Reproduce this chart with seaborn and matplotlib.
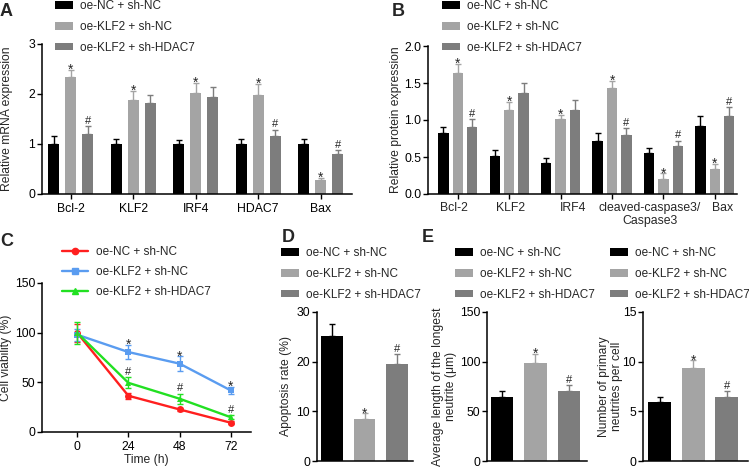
import matplotlib
matplotlib.use("Agg")
import matplotlib.pyplot as plt
import seaborn as sns
import numpy as np
import pandas as pd
from matplotlib.patches import Patch
from matplotlib.lines import Line2D

sns.set_theme(style="ticks")
plt.rcParams['font.family'] = ['Liberation Sans', 'DejaVu Sans']

# ---- data ----
groups = ["oe-NC + sh-NC", "oe-KLF2 + sh-NC", "oe-KLF2 + sh-HDAC7"]
bar_colors = ["#000000", "#a4a4a4", "#7d7d7d"]
line_colors = ["#ff1f1f", "#5a9cf0", "#22e022"]
line_markers = ["o", "s", "^"]

# A: relative mRNA expression
genes_a = ["Bcl-2", "KLF2", "IRF4", "HDAC7", "Bax"]
mrna_nc = [1.0, 1.0, 1.0, 1.0, 1.0]
mrna_klf2 = [2.35, 1.88, 2.03, 1.99, 0.29]
mrna_hdac7 = [1.20, 1.82, 1.95, 1.17, 0.80]
mrna_nc_err = [0.16, 0.10, 0.09, 0.11, 0.11]
mrna_klf2_err = [0.13, 0.18, 0.20, 0.21, 0.04]
mrna_hdac7_err = [0.16, 0.17, 0.19, 0.12, 0.08]
mrna_marks = [["", "", "", "", ""], ["*", "*", "*", "*", "*"], ["#", "", "", "#", "#"]]

# B: relative protein expression
proteins_b = ["Bcl-2", "KLF2", "IRF4", "cleaved-caspase3", "Caspase3", "Bax"]
prot_nc = [0.82, 0.52, 0.42, 0.72, 0.55, 0.92]
prot_klf2 = [1.63, 1.13, 1.01, 1.43, 0.20, 0.34]
prot_hdac7 = [0.90, 1.36, 1.13, 0.80, 0.65, 1.05]
prot_nc_err = [0.09, 0.08, 0.07, 0.10, 0.07, 0.13]
prot_klf2_err = [0.13, 0.12, 0.06, 0.10, 0.08, 0.07]
prot_hdac7_err = [0.11, 0.14, 0.14, 0.09, 0.07, 0.12]
prot_marks = [["", "", "", "", "", ""], ["*", "*", "*", "*", "*", "*"], ["#", "", "", "#", "#", "#"]]
prot_ticklabels = ["Bcl-2", "KLF2", "IRF4", "cleaved-caspase3/\nCaspase3", "Bax"]
prot_tickpos = [-0.08, 1.02, 2.25, 3.74, 5.14]

# C: cell viability
times = [0, 24, 48, 72]
via = [[100, 36.5, 22.7, 9.3], [98, 80.5, 68.8, 41.8], [100, 49.5, 33.5, 14.8]]
via_err = [[9, 3, 1.5, 1.5], [6, 7.5, 7.5, 4], [11, 5.5, 5, 2]]
via_marks = [["", "", "", ""], ["", "*", "*", "*"], ["", "#", "#", "#"]]

# D: apoptosis
apoptosis = [25.2, 8.4, 19.5]
apoptosis_err = [2.4, 1.2, 2.0]
# E: neurites
length = [64.5, 98.3, 70.0]
length_err = [6.0, 9.5, 6.5]
number = [5.9, 9.4, 6.4]
number_err = [0.55, 0.75, 0.6]
single_marks = ["", "*", "#"]

W, H = 749, 467
fig = plt.figure(figsize=(W / 100, H / 100), dpi=100)

FS_TICK = 8.8
FS_LAB = 8.7
FS_LEG = 8.5


def px_axes(x0, y0, x1, y1):
    ax = fig.add_axes([x0 / W, 1 - y1 / H, (x1 - x0) / W, (y1 - y0) / H])
    sns.despine(ax=ax)
    for s in ["left", "bottom"]:
        ax.spines[s].set_linewidth(1.1)
        ax.spines[s].set_color("black")
    ax.tick_params(direction="out", length=3.4, width=1.0, labelsize=FS_TICK,
                   colors="black", pad=1.5)
    ax.set_xlabel("")
    ax.set_ylabel("")
    return ax


def set_ylabel(ax, text, right_px, x0_px, w_px):
    ax.set_ylabel(text, fontsize=FS_LAB, linespacing=1.1)
    ax.yaxis.set_label_coords((right_px - x0_px) / w_px, 0.5)


def mark(ax, x, top, s):
    if not s:
        return
    if s == "*":
        ax.annotate("*", (x, top), xytext=(0, -3.0), textcoords="offset points",
                    ha="center", va="baseline", fontsize=10)
    else:
        ax.annotate("#", (x, top), xytext=(0, 1.8), textcoords="offset points",
                    ha="center", va="baseline", fontsize=8)


def add_legend(ax, handles, x_px, y_px, hl=1.5, spacing=0.75):
    ax.legend(handles, groups, loc="upper left", frameon=False,
              bbox_to_anchor=(x_px / W, 1 - y_px / H), bbox_transform=fig.transFigure,
              borderpad=0, borderaxespad=0, fontsize=FS_LEG, handlelength=hl,
              handleheight=0.62, handletextpad=0.65, labelspacing=spacing)


def letter(text, x_px, y_px):
    fig.text(x_px / W, 1 - y_px / H, text, fontsize=13, fontweight="bold",
             ha="left", va="top")


def grouped(ax, cats, vals, errs, marks, width, gap):
    df = pd.DataFrame({"cat": cats * 3,
                       "group": np.repeat(groups, len(cats)),
                       "value": vals[0] + vals[1] + vals[2]})
    sns.barplot(df, x="cat", y="value", hue="group", hue_order=groups,
                palette=bar_colors, width=width, gap=gap, errorbar=None,
                saturation=1, linewidth=0, legend=False, ax=ax)
    conts = list(ax.containers)[:3]
    for i, cont in enumerate(conts):
        xs = [b.get_x() + b.get_width() / 2 for b in cont.patches]
        ys = [b.get_height() for b in cont.patches]
        ax.errorbar(xs, ys, yerr=[np.zeros(len(xs)), errs[i]], fmt="none",
                    ecolor=bar_colors[i], elinewidth=1.0, capsize=2.2, capthick=1.0)
        for x, y, e, s in zip(xs, ys, errs[i], marks[i]):
            mark(ax, x, y + e, s)


def single(ax, vals, errs, width):
    sns.barplot(x=groups, y=vals, hue=groups, hue_order=groups, order=groups,
                palette=bar_colors, width=width, errorbar=None, saturation=1,
                linewidth=0, legend=False, ax=ax)
    bars = sorted(ax.patches, key=lambda b: b.get_x())
    for i, b in enumerate(bars):
        x = b.get_x() + b.get_width() / 2
        ax.errorbar([x], [b.get_height()], yerr=[[0], [errs[i]]], fmt="none",
                    ecolor=bar_colors[i], elinewidth=1.0, capsize=2.2, capthick=1.0)
        mark(ax, x, b.get_height() + errs[i], single_marks[i])
    ax.set_xticks([])
    ax.tick_params(axis="x", length=0)


bar_handles = [Patch(facecolor=c, edgecolor="none") for c in bar_colors]

# ---- A ----
axA = px_axes(42, 44, 352, 194)
grouped(axA, genes_a, [mrna_nc, mrna_klf2, mrna_hdac7],
        [mrna_nc_err, mrna_klf2_err, mrna_hdac7_err], mrna_marks, 0.82, 0.34)
axA.set_xlim(-0.46, 4.5)
axA.set_ylim(0, 3)
axA.set_yticks([0, 1, 2, 3])
axA.tick_params(axis="x", pad=3)
axA.set_xlabel("")
set_ylabel(axA, "Relative mRNA expression", 13, 42, 310)
add_legend(axA, bar_handles, 55, 0)
letter("A", 0, 3)

# ---- B ----
axB = px_axes(428, 46, 737, 194)
grouped(axB, proteins_b, [prot_nc, prot_klf2, prot_hdac7],
        [prot_nc_err, prot_klf2_err, prot_hdac7_err], prot_marks, 0.84, 0.28)
axB.set_xlim(-0.58, 5.43)
axB.set_ylim(0, 2)
axB.set_yticks([0, 0.5, 1.0, 1.5, 2.0])
axB.set_yticklabels(["0.0", "0.5", "1.0", "1.5", "2.0"])
axB.set_xticks(range(len(proteins_b)))
axB.set_xticklabels([""] * len(proteins_b))
axB.set_xticks(prot_tickpos, minor=True)
axB.set_xticklabels(prot_ticklabels, minor=True, linespacing=1.05)
axB.tick_params(axis="x", which="minor", length=0, labelsize=FS_TICK, pad=6)
axB.set_xlabel("")
set_ylabel(axB, "Relative protein expression", 402, 428, 309)
add_legend(axB, bar_handles, 442, 0)
letter("B", 392, 3)

# ---- C ----
axC = px_axes(42, 283, 251, 432)
dfc = pd.DataFrame({"time": times * 3,
                    "group": np.repeat(groups, len(times)),
                    "viability": via[0] + via[1] + via[2]})
sns.lineplot(dfc, x="time", y="viability", hue="group", style="group",
             hue_order=groups, style_order=groups, palette=line_colors,
             markers=line_markers, dashes=False, errorbar=None, linewidth=1.7,
             markersize=5, markeredgewidth=0, legend=False, ax=axC)
for i in range(3):
    axC.errorbar(times, via[i], yerr=via_err[i], fmt="none", ecolor=line_colors[i],
                 elinewidth=1.0, capsize=2.2, capthick=1.0)
    for t, v, e, s in zip(times, via[i], via_err[i], via_marks[i]):
        mark(axC, t, v + e, s)
axC.set_xlim(-16.4, 81.4)
axC.set_ylim(0, 150)
axC.set_xticks(times)
axC.set_yticks([0, 50, 100, 150])
axC.tick_params(axis="x", pad=3)
axC.set_xlabel("Time (h)", fontsize=FS_LAB, labelpad=1)
set_ylabel(axC, "Cell viability (%)", 12, 42, 209)
line_handles = [Line2D([0], [0], color=c, marker=m, markersize=4.5, lw=1.7)
                for c, m in zip(line_colors, line_markers)]
add_legend(axC, line_handles, 62, 246, hl=2.2, spacing=0.68)
letter("C", 0, 233)

# ---- D ----
axD = px_axes(317, 312, 413, 461)
single(axD, apoptosis, apoptosis_err, 0.65)
axD.set_xlim(-0.46, 2.49)
axD.set_ylim(0, 30)
axD.set_yticks([0, 10, 20, 30])
set_ylabel(axD, "Apoptosis rate (%)", 292, 317, 96)
add_legend(axD, bar_handles, 281, 247)
letter("D", 282, 229)

# ---- E ----
axE1 = px_axes(487, 312, 587, 461)
single(axE1, length, length_err, 0.68)
axE1.set_xlim(-0.45, 2.54)
axE1.set_ylim(0, 150)
axE1.set_yticks([0, 50, 100, 150])
set_ylabel(axE1, "Average length of the longest\nneutrite (\u03bcm)", 457, 487, 100)
add_legend(axE1, bar_handles, 455, 247)

axE2 = px_axes(643, 312, 748, 461)
single(axE2, number, number_err, 0.68)
axE2.set_xlim(-0.5, 2.63)
axE2.set_ylim(0, 15)
axE2.set_yticks([0, 5, 10, 15])
set_ylabel(axE2, "Number of primary\nneutrites per cell", 623, 643, 105)
add_legend(axE2, bar_handles, 610, 247)
letter("E", 422, 229)

fig.savefig("out.png", dpi=100)
